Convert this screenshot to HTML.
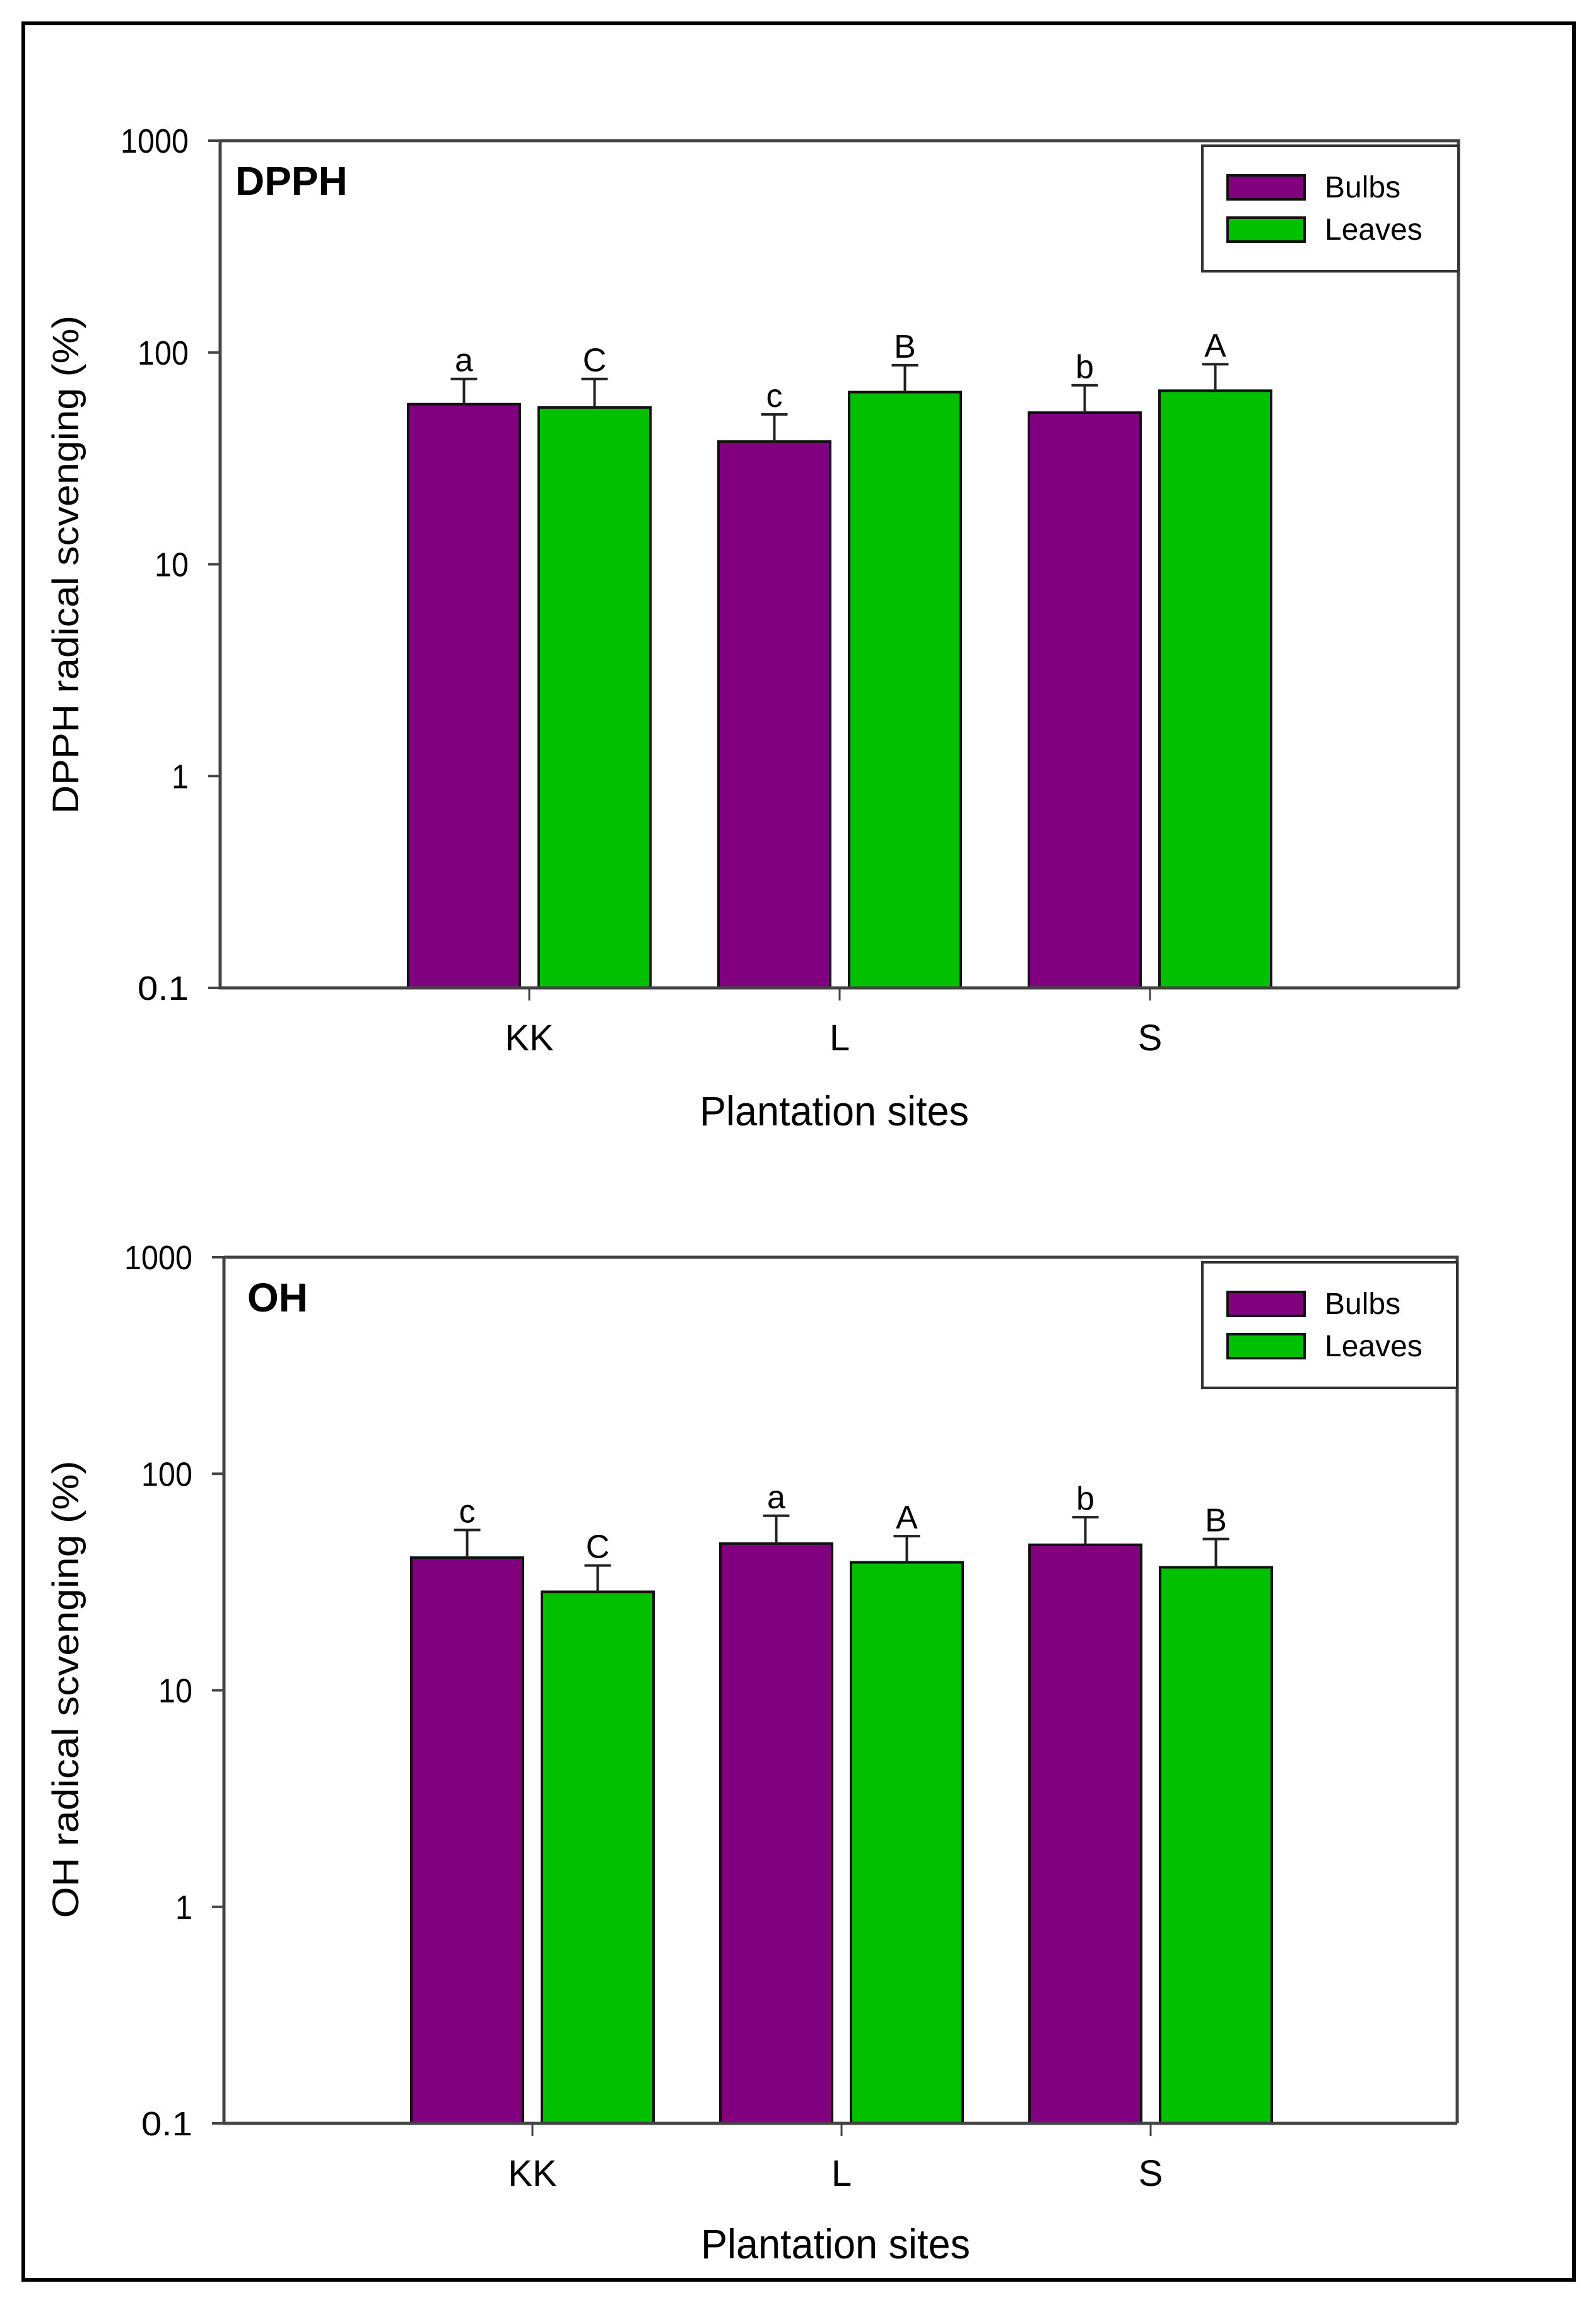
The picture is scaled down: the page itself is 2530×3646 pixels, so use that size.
<!DOCTYPE html>
<html><head><meta charset="utf-8"><style>
html,body{margin:0;padding:0;background:#fff}
svg{display:block}
text{font-family:"Liberation Sans",sans-serif;fill:#000}
</style></head><body>
<svg id="fig" width="2530" height="3646" viewBox="0 0 2530 3646" xmlns="http://www.w3.org/2000/svg">
<rect x="37" y="37" width="2458" height="3577" fill="#fff" stroke="#000" stroke-width="6"/>
</svg>
<script>
const categories = ["KK","L","S"];
const dpphBulbs = [57, 38, 52];
const dpphBulbsErr = [75, 51, 70];
const dpphLeaves = [55, 65, 66];
const dpphLeavesErr = [75, 87, 88];
const dpphBulbLetters = ["a","c","b"];
const dpphLeafLetters = ["C","B","A"];
const ohBulbs = [41, 47.6, 47];
const ohBulbsErr = [55, 64, 63];
const ohLeaves = [28.5, 39, 37];
const ohLeavesErr = [37.7, 51.5, 50];
const ohBulbLetters = ["c","a","b"];
const ohLeafLetters = ["C","A","B"];
const yTicks = [0.1, 1, 10, 100, 1000];
const yTickLabels = ["0.1","1","10","100","1000"];

const NS = "http://www.w3.org/2000/svg";
const svg = document.getElementById("fig");
function mk(tag, attrs, parent){
  const e = document.createElementNS(NS, tag);
  for (const k in attrs) e.setAttribute(k, attrs[k]);
  (parent||svg).appendChild(e);
  return e;
}

function drawPanel(cfg){
  const g = mk("g", {});
  
  
  const L = cfg.left, R = cfg.right, T = cfg.top, B = cfg.bottom;
  const yScale = v => B - (Math.log10(v) - Math.log10(0.1)) / 4 * (B - T);
  const xCenter = i => cfg.x0 + i * cfg.step;
  const barW = 177, half = 15;

  for (let i = 0; i < categories.length; i++){
    const c = xCenter(i);
    const series = [
      {v: cfg.bulbs[i], e: cfg.bulbsErr[i], l: cfg.bulbLetters[i], x: c - half - barW, col: "#800080", n: "bulbs"},
      {v: cfg.leaves[i], e: cfg.leavesErr[i], l: cfg.leafLetters[i], x: c + half, col: "#00c000", n: "leaves"}
    ];
    for (const s of series){
      const yt = yScale(s.v), ye = yScale(s.e), cx = s.x + barW/2;
      const bar = mk("rect", {x: s.x, y: yt, width: barW, height: B - yt, fill: s.col, stroke: "#111", "stroke-width": 4}, g);
      
      
      const eb = mk("path", {d: `M${cx},${yt} V${ye} M${cx-21},${ye} H${cx+21}`, stroke: "#222", "stroke-width": 4, fill: "none"}, g);
      
      
      const lt = mk("text", {x: cx, y: ye - 12, "font-size": 52, "text-anchor": "middle", style: 'font-family:"Liberation Sans Narrow","Liberation Sans",sans-serif'}, g);
      lt.textContent = s.l;
      
      
    }
    const tk = mk("line", {x1: c, y1: B, x2: c, y2: B + 20, stroke: "#444", "stroke-width": 3}, g);
    
    
    const tl = mk("text", {x: c, y: B + cfg.tickLabelDy, "font-size": 58, "text-anchor": "middle"}, g);
    tl.textContent = categories[i];
    
    
  }

  const ax = mk("path", {d: `M${L},${T} H${R} V${B} M${L},${T} V${B} H${R}`, stroke: "#444", "stroke-width": 5, fill: "none"}, g);
  
  
  for (let j = 0; j < yTicks.length; j++){
    const y = yScale(yTicks[j]);
    const t = mk("line", {x1: L - 19, y1: y, x2: L, y2: y, stroke: "#444", "stroke-width": 4}, g);
    
    
    const tl = mk("text", {x: L - 50, y: y + 19, "font-size": 54, "text-anchor": "end", textLength: yTickLabels[j].length * 27, lengthAdjust: "spacingAndGlyphs"}, g);
    tl.textContent = yTickLabels[j];
    
    
  }

  const pl = mk("text", {x: cfg.labelX, y: T + 86, "font-size": 64, "font-weight": "bold"}, g);
  pl.textContent = cfg.label;
  
  

  const lg = mk("g", {}, g);
  
  
  mk("rect", {x: 1906, y: T + 8, width: R - 1906, height: 199, fill: "#fff", stroke: "#333", "stroke-width": 4}, lg);
  const items = [["Bulbs", "#800080", 55], ["Leaves", "#00c000", 122]];
  for (const it of items){
    const e = mk("g", {}, lg);
    
    
    mk("rect", {x: 1946, y: T + it[2], width: 122, height: 38, fill: it[1], stroke: "#111", "stroke-width": 4}, e);
    const tx = mk("text", {x: 2100, y: T + it[2] + 35, "font-size": 48}, e);
    tx.textContent = it[0];
  }

  const xt = mk("text", {x: (L + R) / 2 - 8, y: cfg.xTitleY, "font-size": 66, "text-anchor": "middle", textLength: 427, lengthAdjust: "spacingAndGlyphs"}, g);
  xt.textContent = "Plantation sites";
  
  
  const yt = mk("text", {x: 0, y: 0, "font-size": 58, "text-anchor": "middle", textLength: cfg.yTitleLen, lengthAdjust: "spacingAndGlyphs", transform: `translate(${cfg.yTitleX},${cfg.yTitleCY}) rotate(-90)`}, g);
  yt.textContent = cfg.yTitle;
  
  
}

drawPanel({name: "dpph", left: 349, right: 2312, top: 223, bottom: 1566, x0: 839, step: 492,
  bulbs: dpphBulbs, bulbsErr: dpphBulbsErr, leaves: dpphLeaves, leavesErr: dpphLeavesErr,
  bulbLetters: dpphBulbLetters, leafLetters: dpphLeafLetters, tickLabelDy: 99,
  label: "DPPH", labelX: 373, xTitleY: 1784,
  yTitle: "DPPH radical scvenging (%)", yTitleX: 124, yTitleCY: 895, yTitleLen: 790});

drawPanel({name: "oh", left: 355, right: 2310, top: 1993, bottom: 3366, x0: 844, step: 490,
  bulbs: ohBulbs, bulbsErr: ohBulbsErr, leaves: ohLeaves, leavesErr: ohLeavesErr,
  bulbLetters: ohBulbLetters, leafLetters: ohLeafLetters, tickLabelDy: 99,
  label: "OH", labelX: 392, xTitleY: 3580,
  yTitle: "OH radical scvenging (%)", yTitleX: 124, yTitleCY: 2678, yTitleLen: 725});
</script>
</body></html>
